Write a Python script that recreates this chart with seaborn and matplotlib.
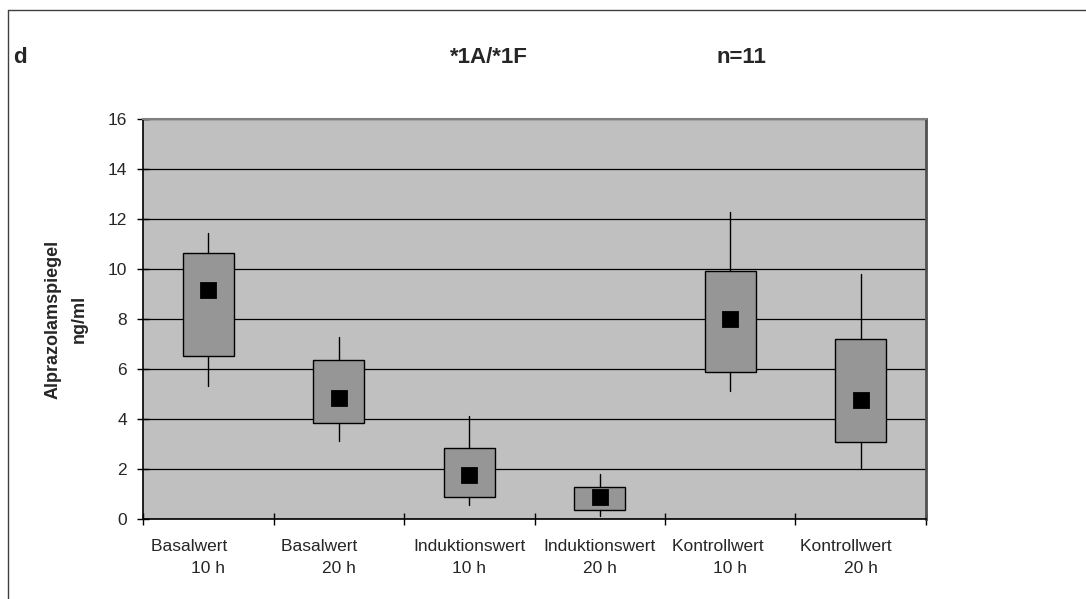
import numpy as np
import matplotlib.pyplot as plt
import seaborn as sns
from matplotlib.lines import Line2D

# values (ng/ml)
groups = ["Basalwert 10 h", "Basalwert 20 h", "Induktionswert 10 h",
          "Induktionswert 20 h", "Kontrollwert 10 h", "Kontrollwert 20 h"]
tick_labels = ["Basalwert        \n10 h", "Basalwert        \n20 h",
               "Induktionswert\n10 h", "Induktionswert\n20 h",
               "Kontrollwert     \n10 h", "Kontrollwert      \n20 h"]
box_low = [6.53, 3.85, 0.87, 0.35, 5.90, 3.07]
box_high = [10.63, 6.36, 2.84, 1.29, 9.93, 7.20]
whisker_low = [5.33, 3.13, 0.55, 0.14, 5.13, 2.05]
whisker_high = [11.45, 7.28, 4.12, 1.80, 12.30, 9.80]
means = [9.17, 4.83, 1.77, 0.87, 8.00, 4.77]

sns.set_style("ticks")
plt.rcParams['font.family'] = ['Liberation Sans', 'DejaVu Sans']

fig = plt.figure(figsize=(10.86, 5.99), dpi=100)
ax = fig.add_axes([143 / 1086, 1 - 519 / 599, 783 / 1086, 400 / 599])
ax.set_facecolor("#C0C0C0")

# mean markers
sns.pointplot(x=groups, y=means, linestyle="none", marker="s", markersize=9.5,
              color="black", errorbar=None, ax=ax, zorder=4)

# boxes from the summary values
stats = []
for i in range(len(groups)):
    stats.append(dict(med=box_low[i], q1=box_low[i], q3=box_high[i],
                      whislo=whisker_low[i], whishi=whisker_high[i]))
ax.bxp(stats, positions=range(len(groups)), widths=0.39, patch_artist=True,
       showcaps=False, showfliers=False, manage_ticks=False,
       boxprops=dict(facecolor="#969696", edgecolor="black", linewidth=1),
       whiskerprops=dict(color="black", linewidth=1),
       medianprops=dict(linewidth=0), zorder=2)

ax.set_xlim(-0.5, len(groups) - 0.5)
ax.set_ylim(0, 16)
ax.set_yticks(np.arange(0, 17, 2))
ax.set_xticks(np.arange(len(groups) + 1) - 0.5, labels=[])
ax.set_xticks(np.arange(len(groups)), labels=tick_labels, minor=True)
for t in ax.get_xticklabels(minor=True):
    t.set_linespacing(1.62)
    t.set_multialignment("center")
ax.set_xlabel("")

ax.yaxis.grid(True, color="black", linewidth=0.9)
ax.set_axisbelow(True)

ax.tick_params(axis="both", which="major", direction="inout", length=9,
               width=1, color="black", labelsize=12.5)
ax.tick_params(axis="y", pad=7.2)
ax.tick_params(axis="x", which="minor", length=0, pad=14.4, labelsize=12.5)

for s in ["left", "bottom"]:
    ax.spines[s].set_color("black")
    ax.spines[s].set_linewidth(1.2)
ax.spines["top"].set_color("#808080")
ax.spines["top"].set_linewidth(1.5)
ax.spines["right"].set_color("#505050")
ax.spines["right"].set_linewidth(2)

ax.set_ylabel("Alprazolamspiegel\nng/ml", fontsize=13, fontweight="bold",
              linespacing=1.72, labelpad=14)

fig.text(19.5 / 1086, 1 - 63 / 599, "d", fontsize=16, fontweight="bold",
         ha="center", va="baseline")
fig.text(489 / 1086, 1 - 63 / 599, "*1A/*1F", fontsize=16, fontweight="bold",
         ha="center", va="baseline")
fig.text(741 / 1086, 1 - 63 / 599, "n=11", fontsize=16, fontweight="bold",
         ha="center", va="baseline")

# frame around the figure (top and left edges visible)
fig.add_artist(Line2D([8 / 1086, 8 / 1086], [0, 1 - 9.5 / 599],
                      transform=fig.transFigure, color="#404040", lw=1))
fig.add_artist(Line2D([8 / 1086, 1], [1 - 9.5 / 599, 1 - 9.5 / 599],
                      transform=fig.transFigure, color="#404040", lw=1))

fig.savefig("out.png", dpi=100)
